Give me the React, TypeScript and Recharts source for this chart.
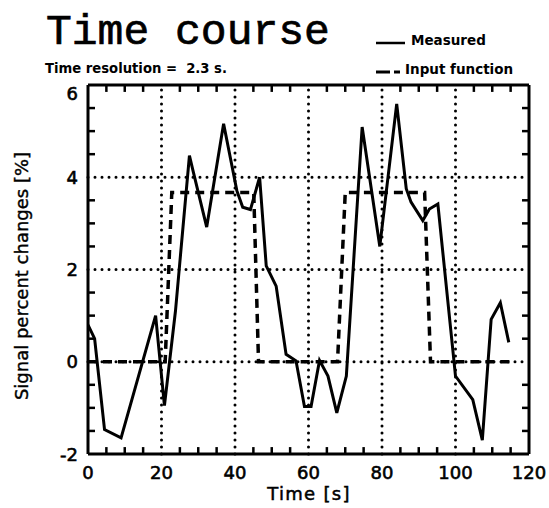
import React from 'react';
import { LineChart, Line, XAxis, YAxis, ReferenceLine } from 'recharts';

// Measured signal (time in s, percent change)
const measuredTime = [0, 1.8, 4.5, 9.0, 18.4, 20.8, 23.8, 27.6, 28.7, 32.3, 36.9, 40.5, 42.1, 44.2, 46.7, 48.5, 51.2, 53.9, 56.6, 58.9, 60.7, 63.0, 65.3, 67.7, 70.3, 74.6, 79.4, 84.0, 86.6, 87.9, 91.1, 92.9, 95.2, 100.0, 104.7, 107.3, 109.7, 112.2, 114.5];
const measuredValue = [0.8, 0.5, -1.47, -1.65, 1.0, -0.95, 1.1, 4.47, 4.1, 2.92, 5.16, 3.71, 3.35, 3.3, 4.0, 2.08, 1.64, 0.16, 0.02, -0.97, -0.97, 0.03, -0.31, -1.11, -0.31, 5.09, 2.5, 5.59, 3.75, 3.46, 3.06, 3.31, 3.42, -0.31, -0.82, -1.7, 0.92, 1.28, 0.42];

// Input function (boxcar)
const inputTime = [0, 21.0, 22.8, 45.1, 46.4, 67.9, 70.0, 91.6, 93.2, 115];
const inputValue = [0, 0, 3.67, 3.67, 0, 0, 3.67, 3.67, 0, 0];

// Axis ticks
const xLabelTicks = [0, 20, 40, 60, 80, 100, 120];
const xMinorTicks = [5, 10, 15, 25, 30, 35, 45, 50, 55, 65, 70, 75, 85, 90, 95, 105, 110, 115];
const yLabelTicks = [-2, 0, 2, 4, 6];
const yMinorTicks = [-1.5, -1, -0.5, 0.5, 1, 1.5, 2.5, 3, 3.5, 4.5, 5, 5.5];
const xGrid = [20, 40, 60, 80, 100];
const yGrid = [0, 2, 4];

const X_MIN = 0;
const X_MAX = 120;
const Y_MIN = -2;
const Y_MAX = 6;
// inward tick lengths in axis units (~7px)
const X_TICK_LEN = 1.9;
const Y_TICK_LEN = 0.15;

const measuredData = measuredTime.map((t, i) => ({ t, v: measuredValue[i] }));
const inputData = inputTime.map((t, i) => ({ t, v: inputValue[i] }));

const W = 549;
const H = 508;
const TICK_FONT = '"DejaVu Sans", sans-serif';

const BottomTick = (props: any) => {
  const { x, y, payload } = props;
  return (
    <text x={x} y={y + 25} textAnchor="middle" fontFamily={TICK_FONT} fontSize={18} fill="#000" stroke="#000" strokeWidth={0.6}>
      {payload.value}
    </text>
  );
};

const LeftTick = (props: any) => {
  const { x, y, payload } = props;
  const v = payload.value;
  const ly = v === Y_MAX ? y + 8 : y;
  return (
    <text x={x - 10} y={ly + 6.5} textAnchor="end" fontFamily={TICK_FONT} fontSize={18} fill="#000" stroke="#000" strokeWidth={0.6}>
      {v}
    </text>
  );
};

const tickStyle = { stroke: '#000', strokeWidth: 2.5 };

export default function App() {
  return (
    <div style={{ position: 'absolute', left: 0, top: 0, width: W, height: H, background: '#fff' }}>
      <LineChart width={W} height={H} data={measuredData} margin={{ top: 84, right: 19, bottom: 0, left: 0 }}>
        <XAxis
          dataKey="t"
          type="number"
          domain={[X_MIN, X_MAX]}
          ticks={xLabelTicks}
          interval={0}
          height={54}
          tickSize={0}
          tickMargin={0}
          tickLine={false}
          axisLine={{ stroke: '#000', strokeWidth: 3 }}
          tick={<BottomTick />}
          allowDataOverflow
        />
        <XAxis
          xAxisId="top"
          orientation="top"
          dataKey="t"
          type="number"
          domain={[X_MIN, X_MAX]}
          height={1}
          tick={false}
          tickLine={false}
          axisLine={{ stroke: '#000', strokeWidth: 3 }}
          allowDataOverflow
        />
        <YAxis
          type="number"
          domain={[Y_MIN, Y_MAX]}
          ticks={yLabelTicks}
          interval={0}
          width={88}
          tickSize={0}
          tickMargin={0}
          tickLine={false}
          axisLine={{ stroke: '#000', strokeWidth: 3 }}
          tick={<LeftTick />}
          allowDataOverflow
        />
        <YAxis
          yAxisId="right"
          orientation="right"
          type="number"
          domain={[Y_MIN, Y_MAX]}
          width={1}
          tick={false}
          tickLine={false}
          axisLine={{ stroke: '#000', strokeWidth: 3 }}
          allowDataOverflow
        />
        {xGrid.map((g) => (
          <ReferenceLine key={'x' + g} x={g} stroke="#000" strokeWidth={3} strokeDasharray="0 7" strokeLinecap="round" />
        ))}
        {yGrid.map((g) => (
          <ReferenceLine key={'y' + g} y={g} stroke="#000" strokeWidth={3} strokeDasharray="0 7" strokeLinecap="round" />
        ))}
        {xMinorTicks.map((t) => (
          <ReferenceLine
            key={'bt' + t}
            segment={[{ x: t, y: Y_MIN }, { x: t, y: Y_MIN + Y_TICK_LEN }]}
            {...tickStyle}
          />
        ))}
        {xMinorTicks.map((t) => (
          <ReferenceLine
            key={'tt' + t}
            segment={[{ x: t, y: Y_MAX }, { x: t, y: Y_MAX - Y_TICK_LEN }]}
            {...tickStyle}
          />
        ))}
        {yMinorTicks.map((v) => (
          <ReferenceLine
            key={'lt' + v}
            segment={[{ x: X_MIN, y: v }, { x: X_MIN + X_TICK_LEN, y: v }]}
            {...tickStyle}
          />
        ))}
        {yMinorTicks.map((v) => (
          <ReferenceLine
            key={'rt' + v}
            segment={[{ x: X_MAX, y: v }, { x: X_MAX - X_TICK_LEN, y: v }]}
            {...tickStyle}
          />
        ))}
        <Line
          data={inputData}
          dataKey="v"
          type="linear"
          stroke="#000"
          strokeWidth={3.5}
          strokeDasharray="9 6"
          dot={false}
          activeDot={false}
          isAnimationActive={false}
        />
        <Line
          data={measuredData}
          dataKey="v"
          type="linear"
          stroke="#000"
          strokeWidth={3}
          strokeLinejoin="miter"
          dot={false}
          activeDot={false}
          isAnimationActive={false}
        />
      </LineChart>
      <svg width={W} height={H} style={{ position: 'absolute', left: 0, top: 0, pointerEvents: 'none' }}>
        <text x={46} y={44} fontFamily='"Liberation Mono", monospace' fontSize={43} fill="#000" stroke="#000" strokeWidth={0.7}>
          Time course
        </text>
        <text x={45} y={73} fontFamily={TICK_FONT} fontWeight="bold" fontSize={13.2} fill="#000" style={{ whiteSpace: 'pre' }}>
          {'Time resolution =  2.3 s.'}
        </text>
        <line x1={376} y1={43} x2={405} y2={43} stroke="#000" strokeWidth={2.5} />
        <text x={411} y={45} fontFamily={TICK_FONT} fontWeight="bold" fontSize={13.5} fill="#000">
          Measured
        </text>
        <line x1={376} y1={72} x2={390} y2={72} stroke="#000" strokeWidth={3} />
        <line x1={394} y1={72} x2={400} y2={72} stroke="#000" strokeWidth={3} />
        <text x={405} y={74} fontFamily={TICK_FONT} fontWeight="bold" fontSize={13.5} fill="#000">
          Input function
        </text>
        <text x={309} y={500} textAnchor="middle" fontFamily={TICK_FONT} fontSize={18} letterSpacing={1.3} fill="#000" stroke="#000" strokeWidth={0.5}>
          Time [s]
        </text>
        <text
          x={28}
          y={276}
          textAnchor="middle"
          fontFamily={TICK_FONT}
          fontSize={18}
          fill="#000"
          stroke="#000"
          strokeWidth={0.4}
          transform="rotate(-90 28 276)"
        >
          Signal percent changes [%]
        </text>
      </svg>
    </div>
  );
}
